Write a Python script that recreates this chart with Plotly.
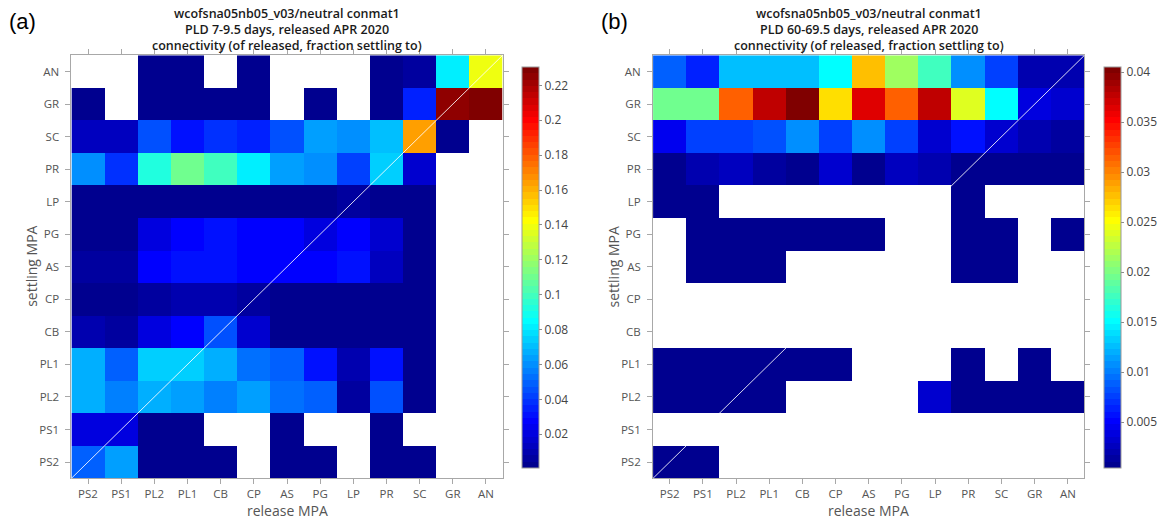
import plotly.graph_objects as go

# MPA sites, ordered south to north (bottom-to-top on y, left-to-right on x)
mpa = ["PS2", "PS1", "PL2", "PL1", "CB", "CP", "AS", "PG", "LP", "PR", "SC", "GR", "AN"]

N = None  # no connection

# Panel (a): PLD 7-9.5 days. Rows = settling MPA (PS2 ... AN), cols = release MPA
conn_a_ps2 = [0.049, 0.063, 0.002, 0.002, 0.002, N, 0.002, 0.002, N, 0.002, 0.002, N, N]
conn_a_ps1 = [0.022, 0.022, 0.002, 0.002, N, N, 0.002, N, N, 0.002, N, N, N]
conn_a_pl2 = [0.066, 0.057, 0.066, 0.063, 0.056, 0.064, 0.054, 0.049, 0.006, 0.047, 0.003, N, N]
conn_a_pl1 = [0.067, 0.049, 0.075, 0.073, 0.066, 0.054, 0.049, 0.030, 0.008, 0.032, 0.003, N, N]
conn_a_cb = [0.010, 0.007, 0.020, 0.029, 0.047, 0.016, 0.004, 0.002, 0.002, 0.002, 0.002, N, N]
conn_a_cp = [0.004, 0.0005, 0.006, 0.008, 0.010, 0.006, 0.002, 0.002, 0.002, 0.002, 0.002, N, N]
conn_a_as = [0.006, 0.006, 0.028, 0.032, 0.030, 0.026, 0.026, 0.026, 0.030, 0.014, 0.003, N, N]
conn_a_pg = [0.002, 0.002, 0.020, 0.026, 0.031, 0.029, 0.026, 0.020, 0.028, 0.017, 0.003, N, N]
conn_a_lp = [0.002, 0.002, 0.002, 0.002, 0.004, 0.004, 0.004, 0.002, 0.006, 0.002, 0.002, N, N]
conn_a_pr = [0.058, 0.040, 0.093, 0.111, 0.098, 0.081, 0.065, 0.058, 0.042, 0.074, 0.017, N, N]
conn_a_sc = [0.014, 0.014, 0.045, 0.031, 0.040, 0.033, 0.046, 0.065, 0.058, 0.072, 0.163, 0.003, N]
conn_a_gr = [0.002, N, 0.002, 0.002, 0.002, 0.002, N, 0.002, N, 0.004, 0.033, 0.225, 0.2304]
conn_a_an = [N, N, 0.002, 0.002, N, 0.002, N, N, N, 0.002, 0.005, 0.081, 0.140]

# Panel (b): PLD 60-69.5 days
conn_b_ps2 = [0.0004, 0.0004, N, N, N, N, N, N, N, N, N, N, N]
conn_b_ps1 = [N, N, N, N, N, N, N, N, N, N, N, N, N]
conn_b_pl2 = [0.0004, 0.0004, 0.0004, 0.0004, N, N, N, N, 0.003, 0.0004, 0.0004, 0.0004, 0.0004]
conn_b_pl1 = [0.0004, 0.0004, 0.0004, 0.0004, 0.0004, 0.0004, N, N, N, 0.0004, N, 0.0004, N]
conn_b_cb = [N, N, N, N, N, N, N, N, N, N, N, N, N]
conn_b_cp = [N, N, N, N, N, N, N, N, N, N, N, N, N]
conn_b_as = [N, 0.0004, 0.0004, 0.0004, N, N, N, N, N, 0.0004, 0.0004, N, N]
conn_b_pg = [N, 0.0004, 0.0004, 0.0004, 0.0005, 0.0008, 0.0008, N, N, 0.0004, 0.0004, N, 0.0004]
conn_b_lp = [0.0004, 0.0004, N, N, N, N, N, N, N, 0.0004, N, N, N]
conn_b_pr = [0.0009, 0.0017, 0.0025, 0.0015, 0.0009, 0.0033, 0.0009, 0.0025, 0.0018, 0.0009, 0.0009, 0.0009, 0.0009]
conn_b_sc = [0.0045, 0.0075, 0.0075, 0.0080, 0.0109, 0.0075, 0.0109, 0.0077, 0.0030, 0.0055, 0.0035, 0.0020, 0.0013]
conn_b_gr = [0.0198, 0.0198, 0.0315, 0.0377, 0.0405, 0.0265, 0.0366, 0.0312, 0.0377, 0.0237, 0.0153, 0.0040, 0.0030]
conn_b_an = [0.0090, 0.0062, 0.0125, 0.0125, 0.0128, 0.0151, 0.0276, 0.0213, 0.0175, 0.0109, 0.0077, 0.0020, 0.0017]

conn_a = [conn_a_ps2, conn_a_ps1, conn_a_pl2, conn_a_pl1, conn_a_cb, conn_a_cp, conn_a_as,
          conn_a_pg, conn_a_lp, conn_a_pr, conn_a_sc, conn_a_gr, conn_a_an]
conn_b = [conn_b_ps2, conn_b_ps1, conn_b_pl2, conn_b_pl1, conn_b_cb, conn_b_cp, conn_b_as,
          conn_b_pg, conn_b_lp, conn_b_pr, conn_b_sc, conn_b_gr, conn_b_an]

titles_a = ["wcofsna05nb05_v03/neutral conmat1",
            "PLD 7-9.5 days, released APR 2020",
            "connectivity (of released, fraction settling to)"]
titles_b = ["wcofsna05nb05_v03/neutral conmat1",
            "PLD 60-69.5 days, released APR 2020",
            "connectivity (of released, fraction settling to)"]

cbar_ticks_a = [0.02, 0.04, 0.06, 0.08, 0.1, 0.12, 0.14, 0.16, 0.18, 0.2, 0.22]
cbar_text_a = ["0.02", "0.04", "0.06", "0.08", "0.1", "0.12", "0.14", "0.16", "0.18", "0.2", "0.22"]
cbar_ticks_b = [0.005, 0.01, 0.015, 0.02, 0.025, 0.03, 0.035, 0.04]
cbar_text_b = ["0.005", "0.01", "0.015", "0.02", "0.025", "0.03", "0.035", "0.04"]


# 64-level stepped "jet" colormap
def jet_rgb(x):
    def clip(v):
        return max(0.0, min(1.0, v))
    r = clip(1.5 - abs(4 * x - 3))
    g = clip(1.5 - abs(4 * x - 2))
    b = clip(1.5 - abs(4 * x - 1))
    return "rgb(%d,%d,%d)" % (round(r * 255), round(g * 255), round(b * 255))


NLEV = 64
jet64 = []
for k in range(NLEV):
    c = jet_rgb((k + 1) / NLEV)
    jet64.append([k / NLEV, c])
    jet64.append([(k + 1) / NLEV, c])

W, H = 1168, 525
FONT = "Open Sans"
GRAY = "#555555"
AXCOL = "#a8a8a8"

# pixel geometry of the two panels
px_a = (72.5, 510)
px_b = (662.7, 1100.5)
py = (55.3, 478.3)
cb_x = {"a": 520, "b": 1110.5}
cb_top, cb_bot = 57.5, 478.0


def fx(p):
    return p / W


def fy(p):
    return 1 - p / H


fig = go.Figure()

for key, z, ticks, texts in (("a", conn_a, cbar_ticks_a, cbar_text_a),
                             ("b", conn_b, cbar_ticks_b, cbar_text_b)):
    sfx = "" if key == "a" else "2"
    fig.add_trace(go.Heatmap(
        x=mpa, y=mpa, z=z,
        xaxis="x" + sfx, yaxis="y" + sfx,
        colorscale=jet64,
        hoverongaps=False,
        colorbar=dict(
            x=fx(cb_x[key]), xanchor="left", xref="paper",
            y=fy((cb_top + cb_bot) / 2), yanchor="middle",
            len=(cb_bot - cb_top) / H, lenmode="fraction",
            thickness=17, thicknessmode="pixels",
            outlinewidth=1, outlinecolor="#9a9a9a",
            tickvals=ticks, ticktext=texts,
            ticks="outside", ticklen=3, tickcolor="#8a8a8a",
            tickfont=dict(family=FONT, size=12, color="#444444"),
        ),
    ))

axis_common = dict(
    type="category",
    showline=True, linecolor=AXCOL, linewidth=1, mirror="ticks",
    ticks="outside", ticklen=5, tickcolor=AXCOL,
    showgrid=False, zeroline=False,
    tickfont=dict(family=FONT, size=11.5, color=GRAY),
    range=[-0.5, 12.5],
)

fig.update_layout(
    width=W, height=H,
    margin=dict(l=0, r=0, t=0, b=0),
    paper_bgcolor="white", plot_bgcolor="white",
    xaxis=dict(axis_common, domain=[fx(px_a[0]), fx(px_a[1])], anchor="y"),
    yaxis=dict(axis_common, domain=[fy(py[1]), fy(py[0])], anchor="x", ticklabelstandoff=4),
    xaxis2=dict(axis_common, domain=[fx(px_b[0]), fx(px_b[1])], anchor="y2"),
    yaxis2=dict(axis_common, domain=[fy(py[1]), fy(py[0])], anchor="x2", ticklabelstandoff=4),
    showlegend=False,
)

annotations = []
shapes = []
for key, xr, titles, tag in (("a", px_a, titles_a, "(a)"), ("b", px_b, titles_b, "(b)")):
    sfx = "" if key == "a" else "2"
    cx = fx((xr[0] + xr[1]) / 2)
    for line, ypix in zip(titles, (14.0, 29.6, 45.4)):
        annotations.append(dict(
            x=cx, y=fy(ypix), xref="paper", yref="paper",
            text=line, showarrow=False, xanchor="center", yanchor="middle",
            font=dict(family=FONT, size=12.5, color="#1a1a1a", weight=600),
        ))
    # axis titles
    annotations.append(dict(
        x=cx, y=fy(510.5), xref="paper", yref="paper", text="release MPA",
        showarrow=False, xanchor="center", yanchor="middle",
        font=dict(family=FONT, size=14, color=GRAY),
    ))
    annotations.append(dict(
        x=fx(xr[0] - 40), y=fy((py[0] + py[1]) / 2), xref="paper", yref="paper",
        text="settling MPA", textangle=-90, showarrow=False,
        xanchor="center", yanchor="middle",
        font=dict(family=FONT, size=14, color=GRAY),
    ))
    # panel tag
    annotations.append(dict(
        x=fx(xr[0] - 65 if key == "a" else xr[0] - 55), y=fy(22), xref="paper", yref="paper",
        text=tag, showarrow=False, xanchor="left", yanchor="middle",
        font=dict(family="Liberation Sans", size=22, color="black"),
    ))
    # 1:1 diagonal (self-recruitment)
    shapes.append(dict(
        type="line", xref="x%s domain" % sfx, yref="y%s domain" % sfx,
        x0=0, y0=0, x1=1, y1=1,
        line=dict(color="rgba(255,255,255,0.85)", width=1),
    ))

fig.update_layout(annotations=annotations, shapes=shapes)

fig.write_html("out.html")
